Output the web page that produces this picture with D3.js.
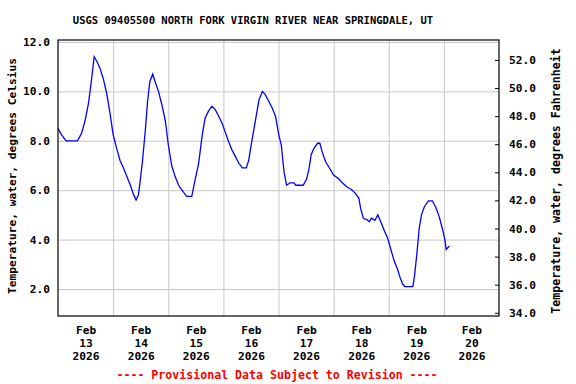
<!DOCTYPE html>
<html>
  <head>
    <script src="https://d3js.org/d3.v7.min.js"></script>
    <style>
      body { margin: 0; background: #fff; }
      text { font-family: "DejaVu Sans Mono", monospace; font-weight: bold; font-size: 11.2px; }
    </style>
  </head>
  <body>
    <div id="graph"></div>
    <script>

var w = 576;
var h = 384;

// readings, water temperature in degrees Celsius
var times = [
  "2026-02-13T00:00", "2026-02-13T01:30", "2026-02-13T03:30", "2026-02-13T08:30", "2026-02-13T10:15",
  "2026-02-13T11:45", "2026-02-13T13:15", "2026-02-13T14:30", "2026-02-13T15:45", "2026-02-13T17:00",
  "2026-02-13T18:15", "2026-02-13T19:45", "2026-02-13T21:15", "2026-02-13T22:45",
  "2026-02-14T00:00", "2026-02-14T01:30", "2026-02-14T03:00", "2026-02-14T04:30", "2026-02-14T06:00",
  "2026-02-14T07:30", "2026-02-14T09:00", "2026-02-14T10:00", "2026-02-14T11:00", "2026-02-14T11:45",
  "2026-02-14T12:45", "2026-02-14T14:00", "2026-02-14T15:00", "2026-02-14T16:00", "2026-02-14T17:15",
  "2026-02-14T18:15", "2026-02-14T19:45", "2026-02-14T21:15", "2026-02-14T22:45",
  "2026-02-15T00:00", "2026-02-15T01:30", "2026-02-15T03:00", "2026-02-15T04:30", "2026-02-15T06:00",
  "2026-02-15T08:00", "2026-02-15T10:15", "2026-02-15T11:45", "2026-02-15T13:15", "2026-02-15T14:45",
  "2026-02-15T16:00", "2026-02-15T17:30", "2026-02-15T19:00", "2026-02-15T20:30", "2026-02-15T22:00",
  "2026-02-15T23:30",
  "2026-02-16T01:00", "2026-02-16T02:15", "2026-02-16T03:45", "2026-02-16T05:15", "2026-02-16T06:45",
  "2026-02-16T08:15", "2026-02-16T10:00", "2026-02-16T11:00", "2026-02-16T12:30", "2026-02-16T14:00",
  "2026-02-16T15:30", "2026-02-16T17:00", "2026-02-16T18:15", "2026-02-16T19:45", "2026-02-16T21:15",
  "2026-02-16T22:45",
  "2026-02-17T00:00", "2026-02-17T01:15", "2026-02-17T02:00", "2026-02-17T02:30", "2026-02-17T03:30",
  "2026-02-17T05:00", "2026-02-17T06:45", "2026-02-17T07:30", "2026-02-17T10:45", "2026-02-17T12:15",
  "2026-02-17T13:15", "2026-02-17T14:15", "2026-02-17T15:30", "2026-02-17T17:00", "2026-02-17T18:00",
  "2026-02-17T19:00", "2026-02-17T20:30", "2026-02-17T22:00",
  "2026-02-18T00:00", "2026-02-18T02:00", "2026-02-18T03:45", "2026-02-18T06:00", "2026-02-18T07:45",
  "2026-02-18T09:30", "2026-02-18T11:00", "2026-02-18T11:45", "2026-02-18T13:00", "2026-02-18T14:30",
  "2026-02-18T15:30", "2026-02-18T16:30", "2026-02-18T18:00", "2026-02-18T19:15", "2026-02-18T20:30",
  "2026-02-18T22:00", "2026-02-18T23:30",
  "2026-02-19T00:00", "2026-02-19T01:15", "2026-02-19T02:15", "2026-02-19T03:45", "2026-02-19T05:00",
  "2026-02-19T06:00", "2026-02-19T07:00", "2026-02-19T10:30", "2026-02-19T11:15", "2026-02-19T12:15",
  "2026-02-19T13:15", "2026-02-19T14:15", "2026-02-19T15:30", "2026-02-19T17:15", "2026-02-19T19:00",
  "2026-02-19T20:30", "2026-02-19T22:00", "2026-02-19T23:30",
  "2026-02-20T00:30", "2026-02-20T01:00", "2026-02-20T02:00", "2026-02-20T02:30"
];
var tempC = [
  8.5, 8.25, 8.0, 8.0, 8.3,
  8.8, 9.5, 10.4, 11.4, 11.2,
  10.95, 10.5, 9.9, 9.05,
  8.25, 7.7, 7.2, 6.9, 6.55,
  6.2, 5.8, 5.6, 5.8, 6.35,
  7.15, 8.4, 9.6, 10.4, 10.7,
  10.4, 10.0, 9.45, 8.8,
  7.85, 7.0, 6.55, 6.2, 6.0,
  5.75, 5.75, 6.45, 7.1, 8.2,
  8.9, 9.2, 9.4, 9.26, 8.98,
  8.7,
  8.3, 7.97, 7.63, 7.36, 7.09,
  6.9, 6.9, 7.2, 8.05, 8.85,
  9.65, 10.0, 9.87, 9.6, 9.33,
  8.98,
  8.3, 7.8, 7.1, 6.7, 6.2,
  6.3, 6.3, 6.2, 6.2, 6.45,
  6.85, 7.45, 7.7, 7.9, 7.9,
  7.56, 7.15, 6.93,
  6.61, 6.47, 6.3, 6.12, 6.03,
  5.87, 5.67, 5.26, 4.85, 4.81,
  4.72, 4.87, 4.78, 5.0, 4.72,
  4.38, 4.07,
  3.9, 3.5, 3.16, 2.82, 2.45,
  2.21, 2.1, 2.1, 2.55, 3.43,
  4.45, 5.0, 5.33, 5.57, 5.57,
  5.3, 4.92, 4.38,
  3.97, 3.6, 3.7, 3.73
];

var celsiusTicks = [2, 4, 6, 8, 10, 12];
var fahrTicks = [34, 36, 38, 40, 42, 44, 46, 48, 50, 52];
var dayTicks = ["2026-02-13", "2026-02-14", "2026-02-15", "2026-02-16",
                "2026-02-17", "2026-02-18", "2026-02-19", "2026-02-20"];

var parseTime = d3.timeParse("%Y-%m-%dT%H:%M");
var parseDay = d3.timeParse("%Y-%m-%d");
var data = times.map(function(t, i) { return { t: parseTime(t), v: tempC[i] }; });

var plotL = 58, plotR = 499, plotT = 40, plotB = 316;

var svg = d3.select("#graph")
  .append("svg")
  .attr("width", w)
  .attr("height", h);

var xScale = d3.scaleTime()
  .domain([parseDay("2026-02-13"), parseDay("2026-02-21")])
  .range([plotL, plotR]);

var yScale = d3.scaleLinear()
  .domain([0.907, 12.08])
  .range([plotB, plotT]);

// the Fahrenheit axis on the original sits a little off the Celsius one
var yScaleF = d3.scaleLinear()
  .domain([33.77, 53.42])
  .range([plotB, plotT]);

//Gridlines
svg.append("g")
  .attr("transform", "translate(" + plotL + ",0)")
  .call(d3.axisLeft(yScale).tickValues(celsiusTicks).tickSize(-(plotR - plotL)).tickFormat(""))
  .call(function(g) {
    g.select(".domain").remove();
    g.selectAll("line").attr("stroke", "#c8c8c8");
  });

var gridDays = dayTicks.slice(1).map(function(d) { return parseDay(d); });
svg.append("g")
  .attr("transform", "translate(0," + plotB + ")")
  .call(d3.axisBottom(xScale).tickValues(gridDays).tickSize(-(plotB - plotT)).tickFormat(""))
  .call(function(g) {
    g.select(".domain").remove();
    g.selectAll("line").attr("stroke", "#c8c8c8");
  });

//Line
var line = d3.line()
  .x(function(d) { return xScale(d.t); })
  .y(function(d) { return yScale(d.v); });

svg.append("path")
  .datum(data)
  .attr("fill", "none")
  .attr("stroke", "#0000ff")
  .attr("stroke-width", 1.3)
  .attr("d", line);

//Frame
svg.append("rect")
  .attr("x", plotL)
  .attr("y", plotT)
  .attr("width", plotR - plotL)
  .attr("height", plotB - plotT)
  .attr("fill", "none")
  .attr("stroke", "#000")
  .attr("stroke-width", 1.2);

//Left axis
svg.append("g")
  .attr("transform", "translate(" + plotL + ",0)")
  .call(d3.axisLeft(yScale).tickValues(celsiusTicks).tickSize(0).tickPadding(8).tickFormat(d3.format(".1f")))
  .call(function(g) {
    g.select(".domain").remove();
    g.selectAll("text").attr("font-family", null).attr("font-size", null).attr("fill", "#000");
  });

//Right axis
svg.append("g")
  .attr("transform", "translate(" + plotR + ",0)")
  .call(d3.axisRight(yScaleF).tickValues(fahrTicks).tickSize(-4).tickPadding(10).tickFormat(d3.format(".1f")))
  .call(function(g) {
    g.select(".domain").remove();
    g.selectAll("line").attr("stroke", "#000");
    g.selectAll("text").attr("font-family", null).attr("font-size", null).attr("fill", "#000");
  });

//Bottom axis, labels at noon of each day
var noonTicks = dayTicks.map(function(d) { return d3.timeHour.offset(parseDay(d), 12); });
var fmtMon = d3.timeFormat("%b"), fmtDay = d3.timeFormat("%d"), fmtYear = d3.timeFormat("%Y");
var xAxis = svg.append("g")
  .attr("transform", "translate(0," + plotB + ")")
  .call(d3.axisBottom(xScale).tickValues(noonTicks).tickSize(0).tickFormat(""));
xAxis.select(".domain").remove();
xAxis.selectAll(".tick").append("text")
  .attr("text-anchor", "middle")
  .attr("fill", "#000")
  .selectAll("tspan")
  .data(function(d) { return [fmtMon(d), fmtDay(d), fmtYear(d)]; })
  .enter()
  .append("tspan")
  .attr("x", 0)
  .attr("y", function(d, i) { return 18 + i * 13; })
  .text(function(d) { return d; });

//Titles
svg.append("text")
  .attr("x", 253)
  .attr("y", 24)
  .attr("text-anchor", "middle")
  .style("font-size", "10.5px")
  .text("USGS 09405500 NORTH FORK VIRGIN RIVER NEAR SPRINGDALE, UT");

svg.append("text")
  .attr("transform", "translate(16,176) rotate(-90)")
  .attr("text-anchor", "middle")
  .text("Temperature, water, degrees Celsius");

svg.append("text")
  .attr("transform", "translate(560,181) rotate(-90)")
  .attr("text-anchor", "middle")
  .style("font-size", "11.6px")
  .text("Temperature, water, degrees Fahrenheit");

svg.append("text")
  .attr("x", 277)
  .attr("y", 379)
  .attr("text-anchor", "middle")
  .attr("fill", "#ff0000")
  .style("font-size", "11.6px")
  .text("---- Provisional Data Subject to Revision ----");

    </script>
  </body>
</html>
